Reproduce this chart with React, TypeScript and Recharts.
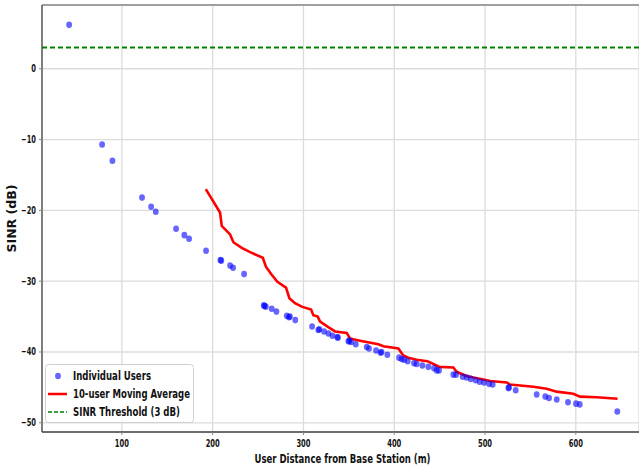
import React from 'react'
import { ComposedChart, Scatter, Line, XAxis, YAxis, CartesianGrid, ReferenceLine } from 'recharts'

// individual users
const userDistance = [
  41.9, 78.2, 89.6, 122.2, 132.2, 137.3, 159.7, 168.8, 174, 192.7,
  208.5, 209.5, 219.2, 222.5, 234.6, 256.3, 257, 258.5, 265, 270.2,
  281.6, 284.1, 285, 291, 309.5, 316.4, 317.5, 322.7, 327.5, 331.9,
  337.3, 338, 349.5, 350.5, 352.4, 357.6, 369.7, 372.2, 380, 385,
  386, 392.4, 405.3, 408.2, 410.8, 414.8, 421.8, 424.7, 431, 437.6,
  443.8, 446.8, 449.3, 465.1, 468, 475.4, 479.8, 484.2, 489.7, 494.1,
  498.9, 504.4, 508.4, 525.7, 526.5, 533.8, 556.9, 566.4, 570.5, 579,
  591.4, 600.2, 604.3, 645.7,
]
const userSinr = [
  6.2, -10.7, -13.0, -18.2, -19.5, -20.2, -22.6, -23.5, -24.0, -25.7,
  -27.0, -27.1, -27.8, -28.1, -29.0, -33.4, -33.5, -33.6, -33.9, -34.3,
  -34.9, -35.1, -35.0, -35.5, -36.4, -36.9, -36.8, -37.1, -37.4, -37.7,
  -37.9, -38.0, -38.5, -38.4, -38.6, -38.9, -39.3, -39.5, -39.8, -40.1,
  -40.0, -40.4, -40.8, -41.0, -41.1, -41.3, -41.6, -41.7, -41.9, -42.1,
  -42.3, -42.6, -42.6, -43.2, -43.2, -43.5, -43.6, -43.8, -44.0, -44.2,
  -44.3, -44.5, -44.6, -45.1, -45.0, -45.4, -46.0, -46.3, -46.5, -46.7,
  -47.1, -47.3, -47.4, -48.4,
]

// 10-user moving average
const avgDistance = [
  192.4, 208.1, 210, 219.2, 222.8, 232, 241.2, 255.2, 258.8, 265,
  271.3, 280.8, 284.5, 290.7, 298.1, 308.4, 310.9, 315.7, 318.3, 327.4,
  334.8, 347.7, 351.3, 362.3, 382.5, 388, 404.5, 410, 415.5, 424.7,
  436.5, 444.9, 449.7, 465.1, 468.8, 474.3, 479.8, 487.2, 498.2, 505.5,
  523.9, 527.5, 553.2, 567.9, 578.9, 597.2, 604.6, 623, 646,
]
const avgSinr = [
  -17.0, -20.3, -22.2, -23.4, -24.5, -25.3, -25.9, -26.7, -28.0, -29.1,
  -30.1, -30.9, -32.4, -33.1, -33.6, -34.0, -34.8, -35.0, -35.7, -36.5,
  -37.1, -37.3, -38.1, -38.4, -38.9, -39.2, -39.5, -40.5, -40.8, -41.1,
  -41.3, -41.8, -42.1, -42.2, -42.8, -43.1, -43.4, -43.6, -43.9, -44.1,
  -44.3, -44.6, -44.9, -45.2, -45.6, -45.9, -46.3, -46.4, -46.6,
]

const sinrThreshold = 3
const xTicks = [100, 200, 300, 400, 500, 600]
const yTicks = [-50, -40, -30, -20, -10, 0]
const xDomain = [12, 669.6]
const yDomain = [-51.3, 9.0]

const users = userDistance.map((d, i) => ({ d, s: userSinr[i] }))
const movingAvg = avgDistance.map((d, i) => ({ d, s: avgSinr[i] }))

const FONT = "'DejaVu Sans Condensed', 'DejaVu Sans', sans-serif"
const INK = '#111'
const fmt = (v: number) => (v < 0 ? '\u2212' + Math.abs(v) : String(v))
// the reference text is narrow, so squeeze it to the width it has there
const tickWidth = (s: string) => s.replace('\u2212', '').length * 4.7 + (s.startsWith('\u2212') ? 5.5 : 0)

const XTick = (p: any) => {
  const s = fmt(p.payload.value)
  return (
    <text x={p.x} y={p.y + 10} textAnchor="middle" fontSize={10} fontFamily={FONT} fontWeight="bold" fill={INK}
      textLength={tickWidth(s)} lengthAdjust="spacingAndGlyphs">{s}</text>
  )
}
const YTick = (p: any) => {
  const s = fmt(p.payload.value)
  return (
    <text x={p.x} y={p.y + 3.5} textAnchor="end" fontSize={10} fontFamily={FONT} fontWeight="bold" fill={INK}
      textLength={tickWidth(s)} lengthAdjust="spacingAndGlyphs">{s}</text>
  )
}

const XTitle = (p: any) => {
  const vb = p.viewBox
  return (
    <text x={vb.x + vb.width / 2 + 2} y={vb.y + 31} textAnchor="middle" fontSize={12.5} fontFamily={FONT} fontWeight="bold" fill={INK}
      textLength={176} lengthAdjust="spacingAndGlyphs">User Distance from Base Station (m)</text>
  )
}
const YTitle = (p: any) => {
  const vb = p.viewBox
  const cx = vb.x + 16
  const cy = vb.y + vb.height / 2
  return (
    <text x={cx} y={cy} transform={`rotate(-90 ${cx} ${cy})`} textAnchor="middle" fontSize={12.5} fontFamily={FONT} fontWeight="bold" fill={INK}
      textLength={68} lengthAdjust="spacingAndGlyphs">SINR (dB)</text>
  )
}

const Dot = (p: any) => <ellipse cx={p.cx} cy={p.cy} rx={2.9} ry={3.3} fill="#0000ff" fillOpacity={0.6} />

function LegendBox() {
  const txt = { fontSize: 12, fontFamily: FONT, fontWeight: 'bold', fill: INK, lengthAdjust: 'spacingAndGlyphs' } as const
  return (
    <svg width={200} height={60} style={{ display: 'block', overflow: 'visible' }}>
      <rect x={0.5} y={0.5} width={148} height={58} rx={3} fill="#fff" fillOpacity={0.85} stroke="#d0d0d0" />
      <ellipse cx={13} cy={12} rx={2.9} ry={3.3} fill="#0000ff" fillOpacity={0.6} />
      <text x={28} y={16} {...txt} textLength={78}>Individual Users</text>
      <line x1={3} x2={22} y1={30} y2={30} stroke="#ff0000" strokeWidth={2.5} />
      <text x={28} y={34} {...txt} textLength={117}>10-user Moving Average</text>
      <line x1={3} x2={22} y1={48} y2={48} stroke="#008000" strokeWidth={1.6} strokeDasharray="4 2" />
      <text x={28} y={52} {...txt} textLength={107}>SINR Threshold (3 dB)</text>
    </svg>
  )
}

export default function App() {
  return (
    <div style={{ position: 'absolute', left: 0, top: 0, width: 639, height: 466, background: '#fff', overflow: 'hidden' }}>
      <ComposedChart width={639} height={466} margin={{ top: 5, right: 0, bottom: 0, left: 0 }}>
        <CartesianGrid stroke="#dcdcdc" strokeWidth={1.3} />
        <XAxis
          type="number"
          dataKey="d"
          domain={xDomain}
          ticks={xTicks}
          allowDataOverflow
          height={34}
          tick={<XTick />}
          tickSize={3}
          tickLine={{ stroke: '#888' }}
          axisLine={{ stroke: '#444', strokeWidth: 1.3 }}
          label={<XTitle />}
        />
        <YAxis
          type="number"
          dataKey="s"
          domain={yDomain}
          ticks={yTicks}
          allowDataOverflow
          width={42}
          tick={<YTick />}
          tickSize={3}
          tickMargin={3}
          tickLine={{ stroke: '#888' }}
          axisLine={{ stroke: '#444', strokeWidth: 1.3 }}
          label={<YTitle />}
        />
        <ReferenceLine y={yDomain[1]} stroke="#888" strokeWidth={1.3} />
        <ReferenceLine y={sinrThreshold} stroke="#008000" strokeWidth={1.8} strokeDasharray="5 3" />
        <Scatter name="Individual Users" data={users} shape={Dot} isAnimationActive={false} />
        <Line name="10-user Moving Average" data={movingAvg} dataKey="s" type="linear" stroke="#ff0000" strokeWidth={2.6} dot={false} activeDot={false} isAnimationActive={false} />
      </ComposedChart>
      <div style={{ position: 'absolute', left: 45, top: 364 }}>
        <LegendBox />
      </div>
    </div>
  )
}
